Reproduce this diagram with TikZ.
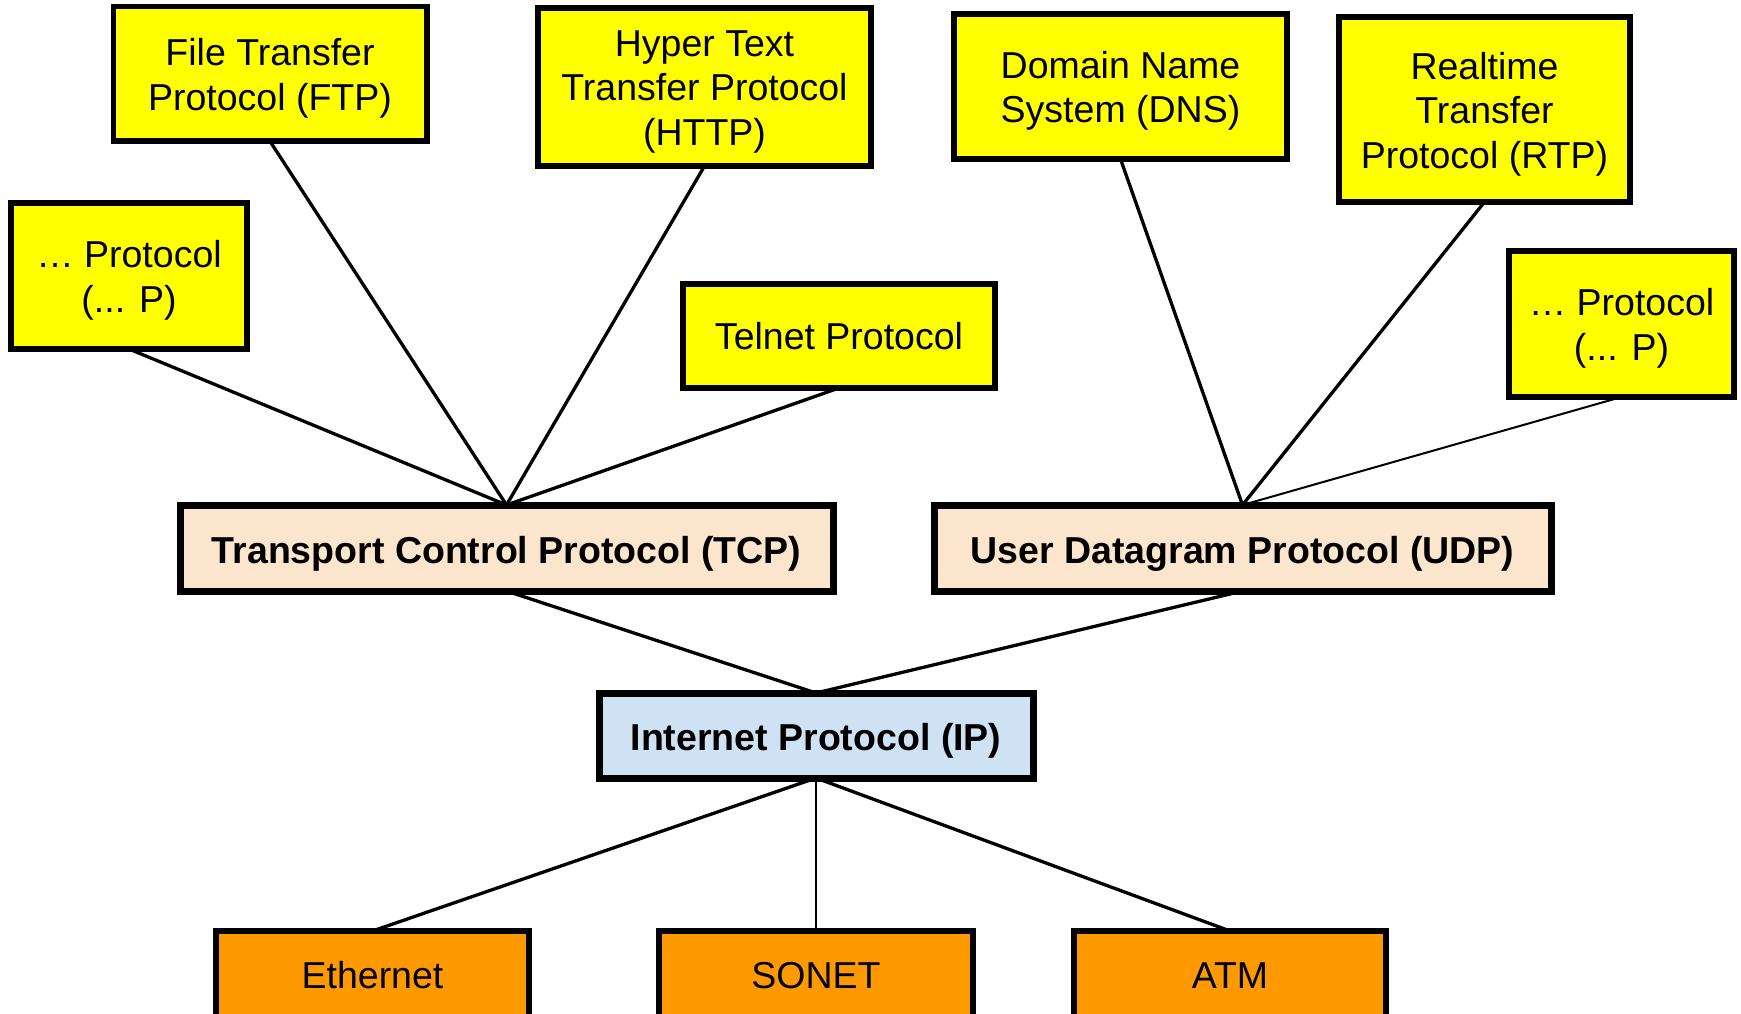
\documentclass[tikz,border=0pt]{standalone}
\usepackage{fontspec}
\setmainfont{Liberation Sans}
\definecolor{appyellow}{HTML}{FFFF00}
\definecolor{transpeach}{HTML}{FCE5CD}
\definecolor{netblue}{HTML}{CFE2F3}
\definecolor{linkorange}{HTML}{FF9900}
\begin{document}
\begin{tikzpicture}[x=1pt,y=-1pt,
  box/.style={draw=black,rectangle,outer sep=0pt,inner sep=0pt},
  txt/.style={align=center,inner sep=0pt,font=\fontsize{37.5}{44.5}\selectfont},
  btxt/.style={txt,font=\fontsize{37.5}{44.5}\selectfont\bfseries},
  % text of a box, lowered a little so the capitals sit in the middle
  say/.style={label={[txt,yshift=-4.5pt]center:{#1}}},
  sayone/.style={label={[txt,yshift=0pt]center:{#1}}},
  saybold/.style={label={[btxt,yshift=-5.5pt]center:{#1}}},
  saylink/.style={label={[txt,yshift=1.5pt]center:{#1}}},
  appbox/.style={box,fill=appyellow,line width=5.5pt},
  transbox/.style={box,fill=transpeach,line width=7pt,minimum height=86pt},
  netbox/.style={box,fill=netblue,line width=7pt,minimum height=85pt},
  linkbox/.style={box,fill=linkorange,line width=5.5pt,minimum height=92pt},
  wire/.style={draw=black,line width=3.3pt},
  thinwire/.style={draw=black,line width=2pt}]
\useasboundingbox (0,0) rectangle (1741,1014);
\clip (0,0) rectangle (1741,1014);

% application layer
\node[appbox,minimum width=313.5pt,minimum height=134.5pt,
  say={File Transfer\\Protocol (FTP)}] (ftp) at (270,74) {};
\node[appbox,minimum width=333pt,minimum height=158pt,
  say={Hyper Text\\Transfer Protocol\\(HTTP)}] (http) at (704.5,87) {};
\node[appbox,minimum width=236pt,minimum height=146pt,
  say={… Protocol\\(... P)}] (otherl) at (129,276) {};
\node[appbox,minimum width=312pt,minimum height=104pt,
  sayone={Telnet Protocol}] (telnet) at (839,336) {};
\node[appbox,minimum width=333pt,minimum height=145pt,
  say={Domain Name\\System (DNS)}] (dns) at (1120.5,86.5) {};
\node[appbox,minimum width=291pt,minimum height=185pt,
  say={Realtime\\Transfer\\Protocol (RTP)}] (rtp) at (1484.5,109.5) {};
\node[appbox,minimum width=225pt,minimum height=146pt,
  say={… Protocol\\(... P)}] (otherr) at (1621.5,324) {};

% transport layer
\node[transbox,minimum width=653pt,
  saybold={Transport Control Protocol (TCP)}] (tcp) at (506.5,548) {};
\node[transbox,minimum width=617pt,
  saybold={User Datagram Protocol (UDP)}] (udp) at (1242.5,548) {};

% network layer
\node[netbox,minimum width=434pt,
  saybold={Internet Protocol (IP)}] (ip) at (816,735.5) {};

% link layer
\node[linkbox,minimum width=313pt,saylink={Ethernet}] (eth) at (372.5,977) {};
\node[linkbox,minimum width=314pt,saylink={SONET}] (sonet) at (816,977) {};
\node[linkbox,minimum width=312pt,saylink={ATM}] (atm) at (1230,977) {};

% connectors
\draw[wire] (otherl.south) -- (tcp.north);
\draw[wire] (ftp.south) -- (tcp.north);
\draw[wire] (http.south) -- (tcp.north);
\draw[wire] (telnet.south) -- (tcp.north);
\draw[wire] (dns.south) -- (udp.north);
\draw[wire] (rtp.south) -- (udp.north);
\draw[thinwire] (otherr.south) -- (udp.north);
\draw[wire] (tcp.south) -- (ip.north);
\draw[wire] (udp.south) -- (ip.north);
\draw[wire] (ip.south) -- (eth.north);
\draw[line width=2.9pt] (ip.south) -- (sonet.north);
\draw[wire] (ip.south) -- (atm.north);
\end{tikzpicture}
\end{document}
